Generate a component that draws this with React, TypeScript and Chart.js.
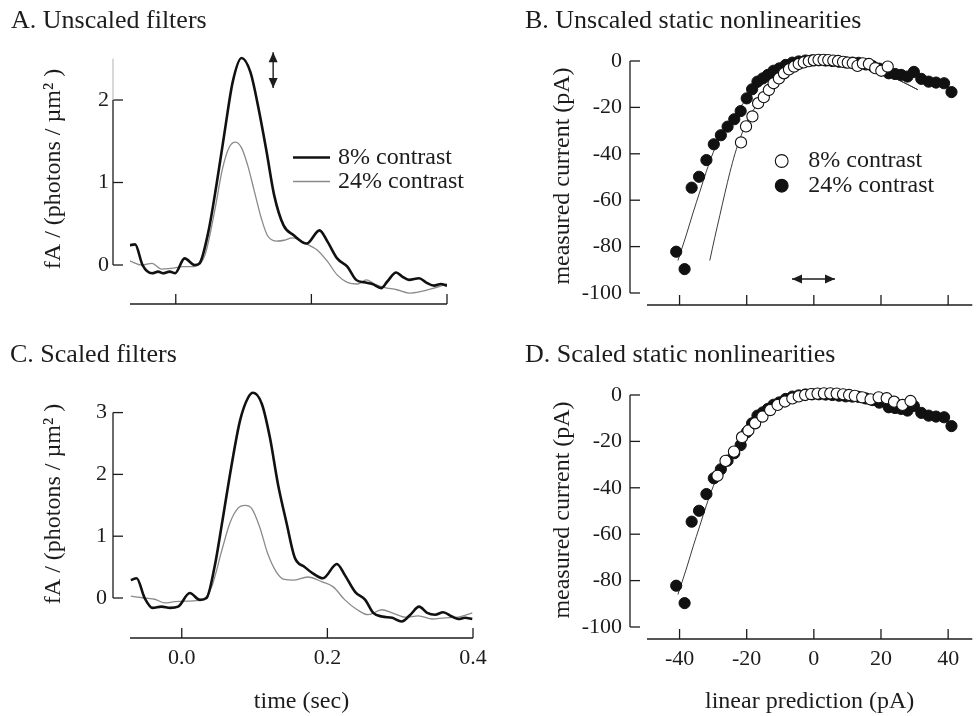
import React, { useEffect, useRef } from "react";
import { Chart, registerables } from "chart.js";

Chart.register(...registerables);

const FONT = "'Liberation Serif', 'Times New Roman', serif";
const INK = "#1c1c1c";
const GRAY = "#8a8a8a";

// ---------- Panel A: unscaled filters ----------
const A_T_8 = [-0.068, -0.060, -0.049, -0.035, -0.026, -0.019, -0.009, -0.001, 0.013, 0.028, 0.035, 0.048, 0.060, 0.072, 0.084, 0.097, 0.110, 0.122, 0.134, 0.145, 0.159, 0.174, 0.193, 0.212, 0.224, 0.238, 0.253, 0.266, 0.278, 0.290, 0.303, 0.312, 0.325, 0.334, 0.344, 0.359, 0.369, 0.381, 0.391, 0.400];
const A_V_8 = [0.24, 0.25, 0.00, -0.10, -0.08, -0.10, -0.08, -0.10, 0.08, 0.00, 0.02, 0.40, 0.97, 1.61, 2.22, 2.51, 2.34, 1.90, 1.37, 0.85, 0.48, 0.36, 0.26, 0.42, 0.28, 0.08, -0.02, -0.18, -0.21, -0.23, -0.28, -0.20, -0.09, -0.14, -0.18, -0.16, -0.21, -0.25, -0.23, -0.25];
const A_T_24 = [-0.068, -0.050, -0.035, -0.021, -0.006, 0.010, 0.028, 0.043, 0.057, 0.069, 0.079, 0.088, 0.097, 0.106, 0.116, 0.126, 0.135, 0.148, 0.160, 0.172, 0.194, 0.209, 0.224, 0.238, 0.253, 0.268, 0.281, 0.293, 0.307, 0.326, 0.344, 0.362, 0.381, 0.400];
const A_V_24 = [0.05, 0.00, 0.02, -0.05, -0.04, -0.02, -0.02, 0.12, 0.64, 1.17, 1.43, 1.49, 1.42, 1.21, 0.89, 0.57, 0.36, 0.29, 0.30, 0.33, 0.25, 0.18, 0.04, -0.12, -0.21, -0.23, -0.18, -0.23, -0.27, -0.30, -0.34, -0.32, -0.28, -0.23];

// ---------- Panel C: scaled filters ----------
const C_T_8 = [-0.070, -0.062, -0.051, -0.040, -0.028, -0.016, -0.005, 0.011, 0.025, 0.034, 0.045, 0.056, 0.068, 0.080, 0.091, 0.098, 0.110, 0.121, 0.132, 0.144, 0.155, 0.169, 0.180, 0.194, 0.213, 0.224, 0.238, 0.252, 0.263, 0.275, 0.289, 0.302, 0.314, 0.326, 0.337, 0.348, 0.359, 0.371, 0.380, 0.389, 0.399];
const C_V_8 = [0.29, 0.32, 0.00, -0.16, -0.14, -0.16, -0.14, 0.08, -0.03, 0.00, 0.50, 1.26, 2.12, 2.87, 3.24, 3.32, 3.14, 2.60, 1.85, 1.21, 0.66, 0.50, 0.40, 0.32, 0.55, 0.37, 0.10, -0.03, -0.24, -0.30, -0.32, -0.38, -0.27, -0.14, -0.24, -0.27, -0.23, -0.30, -0.34, -0.32, -0.34];
const C_T_24 = [-0.070, -0.051, -0.037, -0.023, -0.010, 0.007, 0.028, 0.041, 0.055, 0.066, 0.077, 0.087, 0.096, 0.107, 0.118, 0.130, 0.141, 0.153, 0.173, 0.193, 0.208, 0.224, 0.241, 0.256, 0.275, 0.289, 0.307, 0.325, 0.344, 0.362, 0.380, 0.399];
const C_V_24 = [0.03, 0.00, -0.02, -0.08, -0.06, -0.05, -0.03, 0.18, 0.77, 1.21, 1.45, 1.50, 1.45, 1.15, 0.72, 0.42, 0.30, 0.29, 0.34, 0.26, 0.18, -0.03, -0.19, -0.27, -0.19, -0.24, -0.31, -0.29, -0.34, -0.32, -0.31, -0.24];

// ---------- Panels B & D: static nonlinearities ----------
const NL_X_24 = [-41.0, -38.5, -36.4, -34.2, -32.0, -29.8, -27.7, -25.7, -23.7, -21.8, -20.0, -18.4, -16.8, -15.2, -13.7, -12.0, -10.3, -8.4, -6.4, -4.5, -2.5, -0.5, 1.5, 3.5, 5.5, 7.5, 9.5, 11.5, 13.3, 15.5, 17.5, 19.5, 22.3, 24.2, 26.0, 27.9, 29.8, 32.0, 34.2, 36.4, 38.8, 41.0];
const NL_Y_24 = [-82.2, -89.7, -54.6, -49.9, -42.7, -35.9, -32.0, -28.3, -25.1, -21.6, -16.1, -12.2, -8.9, -7.5, -6.0, -4.2, -3.2, -1.7, -0.7, -0.2, 0.2, 0.3, 0.3, 0.2, 0.0, -0.3, -0.6, -0.7, -0.8, -1.5, -2.2, -3.3, -5.3, -5.6, -6.0, -6.7, -4.7, -7.7, -8.9, -9.3, -9.6, -13.4];
const B_X_8 = [-21.7, -20.2, -18.3, -16.6, -14.9, -13.4, -12.0, -10.4, -8.9, -7.4, -5.9, -4.5, -3.0, -1.5, 0.0, 1.4, 2.9, 4.3, 5.8, 7.2, 8.7, 10.1, 11.6, 13.0, 14.6, 16.4, 18.3, 20.1, 22.0];
const B_Y_8 = [-35.1, -28.2, -23.9, -18.2, -15.6, -12.5, -9.6, -7.5, -5.3, -3.6, -2.4, -1.3, -0.6, -0.1, 0.3, 0.5, 0.5, 0.4, 0.2, 0.0, -0.4, -0.7, -0.9, -2.1, -1.0, -1.3, -3.1, -4.2, -2.4];
const D_X_8 = [-28.7, -26.3, -23.8, -21.4, -19.5, -17.5, -15.3, -13.0, -10.8, -8.6, -6.4, -4.5, -2.6, -0.8, 1.1, 3.0, 4.9, 6.8, 8.7, 10.5, 12.2, 14.4, 16.9, 19.3, 21.7, 23.9, 26.4, 28.8];
const D_Y_8 = [-34.8, -28.4, -24.4, -18.2, -15.3, -12.2, -9.3, -6.5, -4.3, -2.8, -1.5, -0.6, 0.0, 0.4, 0.6, 0.7, 0.7, 0.6, 0.3, 0.0, -0.4, -1.0, -1.9, -1.0, -1.4, -2.9, -4.3, -2.6];
const FIT_X_24 = [-40.5, -38, -36, -34, -32, -30, -28, -26, -24, -22, -20, -17.5, -15, -12.5, -10, -8, -5, -2, 0, 5, 10, 15, 20, 25, 31];
const FIT_Y_24 = [-86, -75, -65.5, -56.5, -47.5, -39.5, -33, -28, -24, -20, -16.5, -12.8, -9.5, -7.0, -4.8, -3.4, -1.6, -0.4, 0, -0.3, -1.2, -2.8, -5.0, -8.0, -12.4];
const FIT_X_8 = [-31, -29.5, -28, -26.5, -25, -23.5, -22, -20.5, -19, -17, -15, -13, -11, -9, -7, -5, -3, -1, 0, 5, 10, 15, 20, 25, 31];
const FIT_Y_8 = [-86, -76, -66.5, -57, -48, -40, -33.5, -28, -23.5, -19, -14.8, -11, -8, -5.5, -3.5, -2, -0.9, -0.2, 0, -0.3, -1.2, -2.8, -5.0, -8.0, -12.4];
const FIT_X_D = [-40.5, -38, -36, -34, -32, -30, -28, -26, -24, -22, -20, -17.5, -15, -12.5, -10, -8, -5, -2, 0, 5, 10, 15, 20];
const FIT_Y_D = [-86, -75, -65.5, -56.5, -47.5, -39.5, -33, -28, -24, -20, -16.5, -12.8, -9.5, -7.0, -4.8, -3.4, -1.6, -0.4, 0, -0.3, -1.2, -2.8, -5.0];

// ---------- ticks & labels ----------
const T_TICKS = [0, 0.2, 0.4];
const T_TICK_LABELS = ["0.0", "0.2", "0.4"];
const A_Y_TICKS = [0, 1, 2];
const C_Y_TICKS = [0, 1, 2, 3];
const NL_X_TICKS = [-40, -20, 0, 20, 40];
const NL_Y_TICKS = [-100, -80, -60, -40, -20, 0];

const LABEL_8 = "8% contrast";
const LABEL_24 = "24% contrast";
const FILTER_Y_TITLE = "fA / (photons / µm² )";
const NL_Y_TITLE = "measured current (pA)";

const TITLE_SIZE = 26;
const TICK_SIZE = 22;
const AXIS_TITLE_SIZE = 24;
const LEGEND_SIZE = 24;

const pts = (xs: number[], ys: number[]) => xs.map((x, i) => ({ x, y: ys[i] }));

const thick = (label: string, data: any) => ({
  label, data, showLine: true, pointRadius: 0, borderColor: "#111", borderWidth: 2.6,
  cubicInterpolationMode: "monotone", borderJoinStyle: "round", order: 0,
});
const thin = (label: string, data: any) => ({
  label, data, showLine: true, pointRadius: 0, borderColor: GRAY, borderWidth: 1.3,
  cubicInterpolationMode: "monotone", borderJoinStyle: "round", order: 1,
});
const fitLine = (label: string, data: any) => ({
  label, data, showLine: true, pointRadius: 0, borderColor: "#3a3a3a", borderWidth: 1,
  cubicInterpolationMode: "monotone", order: 3,
});
const openPts = (label: string, data: any) => ({
  label, data, showLine: false, pointRadius: 5.6, pointBorderWidth: 1.1,
  pointBackgroundColor: "#ffffff", pointBorderColor: "#111", order: 0,
});
const filledPts = (label: string, data: any) => ({
  label, data, showLine: false, pointRadius: 5.6, pointBorderWidth: 1,
  pointBackgroundColor: "#111", pointBorderColor: "#111", order: 1,
});

const PANELS: any[] = [
  {
    key: "A", left: 0, top: 0, w: 490, h: 320, padL: 11, padR: 43,
    title: "A. Unscaled filters", titleTop: 7.8, titleBottom: 0.2,
    yW: 119, xH: 16, xMin: -0.0675, xMax: 0.4, yMin: -0.4727, yMax: 2.8,
    xTicks: T_TICKS, xLabels: null, xTickPad: 7, xTitle: null,
    yTicks: A_Y_TICKS, yLabels: A_Y_TICKS.map(String), yTickPad: 21,
    yTitle: FILTER_Y_TITLE, yTitlePad: 28.6,
    datasets: [thick(LABEL_8, pts(A_T_8, A_V_8)), thin(LABEL_24, pts(A_T_24, A_V_24))],
    decor: {
      spine: [0, 2], faint: [2, 2.5],
      arrow: { x1: 0.1436, y1: 2.58, x2: 0.1436, y2: 2.145 },
      legend: { kind: "line", x1: 293, x2: 330, tx: 338, ys: [157.5, 181.5] },
    },
  },
  {
    key: "B", left: 490, top: 0, w: 489, h: 320, padL: 35, padR: 0,
    title: "B. Unscaled static nonlinearities", titleTop: 7.8, titleBottom: 13.2,
    yW: 122, xH: 15, xMin: -49.7, xMax: 47.2, yMin: -105.17, yMax: 6.03,
    xTicks: NL_X_TICKS, xLabels: null, xTickPad: 7, xTitle: null,
    yTicks: NL_Y_TICKS, yLabels: NL_Y_TICKS.map(String), yTickPad: 25,
    yTitle: NL_Y_TITLE, yTitlePad: 23.6,
    datasets: [
      openPts(LABEL_8, pts(B_X_8, B_Y_8)),
      filledPts(LABEL_24, pts(NL_X_24, NL_Y_24)),
      fitLine("fit 8%", pts(FIT_X_8, FIT_Y_8)),
      fitLine("fit 24%", pts(FIT_X_24, FIT_Y_24)),
    ],
    decor: {
      spine: [-100, 0],
      arrow: { x1: -6.5, y1: -93.97, x2: 6.3, y2: -93.97 },
      legend: { kind: "point", cx: 291.7, tx: 318.3, ys: [161, 185.7] },
    },
  },
  {
    key: "C", left: 0, top: 320, w: 490, h: 396, padL: 10, padR: 17,
    title: "C. Scaled filters", titleTop: 22, titleBottom: 2,
    yW: 120, xH: 78, xMin: -0.0711, xMax: 0.4, yMin: -0.647, yMax: 3.689,
    xTicks: T_TICKS, xLabels: T_TICK_LABELS, xTickPad: 7, xTitle: "time (sec)",
    yTicks: C_Y_TICKS, yLabels: C_Y_TICKS.map(String), yTickPad: 23,
    yTitle: FILTER_Y_TITLE, yTitlePad: 29.6,
    datasets: [thick(LABEL_8, pts(C_T_8, C_V_8)), thin(LABEL_24, pts(C_T_24, C_V_24))],
    decor: { spine: [0, 3] },
  },
  {
    key: "D", left: 490, top: 320, w: 489, h: 396, padL: 35, padR: 0,
    title: "D. Scaled static nonlinearities", titleTop: 22, titleBottom: 13,
    yW: 122, xH: 77, xMin: -49.7, xMax: 47.2, yMin: -105.17, yMax: 6.03,
    xTicks: NL_X_TICKS, xLabels: NL_X_TICKS.map(String), xTickPad: 7, xTitle: "linear prediction (pA)",
    yTicks: NL_Y_TICKS, yLabels: NL_Y_TICKS.map(String), yTickPad: 25,
    yTitle: NL_Y_TITLE, yTitlePad: 23.6,
    datasets: [
      openPts(LABEL_8, pts(D_X_8, D_Y_8)),
      filledPts(LABEL_24, pts(NL_X_24, NL_Y_24)),
      fitLine("fit", pts(FIT_X_D, FIT_Y_D)),
    ],
    decor: { spine: [-100, 0] },
  },
];

const SPINE_GAP = 17;
const TICK_LEN = 10;

function arrowHead(ctx: CanvasRenderingContext2D, x: number, y: number, ang: number) {
  const len = 10, half = 4.5;
  ctx.beginPath();
  ctx.moveTo(x, y);
  ctx.lineTo(x - len * Math.cos(ang) + half * Math.sin(ang), y - len * Math.sin(ang) - half * Math.cos(ang));
  ctx.lineTo(x - len * Math.cos(ang) - half * Math.sin(ang), y - len * Math.sin(ang) + half * Math.cos(ang));
  ctx.closePath();
  ctx.fill();
}

function makeDecor(p: any) {
  const d = p.decor;
  return {
    id: "decor" + p.key,
    afterDraw(chart: any) {
      const { ctx, chartArea: ca, scales } = chart;
      const xs = scales.x, ys = scales.y;
      ctx.save();
      ctx.strokeStyle = INK;
      ctx.fillStyle = INK;
      ctx.lineWidth = 1.3;
      const seg = (x1: number, y1: number, x2: number, y2: number) => {
        ctx.beginPath(); ctx.moveTo(x1, y1); ctx.lineTo(x2, y2); ctx.stroke();
      };
      // x axis
      const by = ca.bottom;
      seg(ca.left, by, ca.right, by);
      for (const t of xs.ticks) {
        const px = xs.getPixelForValue(t.value);
        seg(px, by, px, by - TICK_LEN);
      }
      // y spine
      const sx = ca.left - SPINE_GAP;
      seg(sx, ys.getPixelForValue(d.spine[0]), sx, ys.getPixelForValue(d.spine[1]));
      for (const t of ys.ticks) {
        const py = ys.getPixelForValue(t.value);
        seg(sx, py, sx + TICK_LEN, py);
      }
      if (d.faint) {
        ctx.strokeStyle = "#c4c4c4";
        seg(sx, ys.getPixelForValue(d.faint[0]), sx, ys.getPixelForValue(d.faint[1]));
        ctx.strokeStyle = INK;
      }
      // double arrow
      if (d.arrow) {
        const a = d.arrow;
        const x1 = xs.getPixelForValue(a.x1), y1 = ys.getPixelForValue(a.y1);
        const x2 = xs.getPixelForValue(a.x2), y2 = ys.getPixelForValue(a.y2);
        ctx.lineWidth = 1.4;
        seg(x1, y1, x2, y2);
        const ang = Math.atan2(y2 - y1, x2 - x1);
        arrowHead(ctx, x2, y2, ang);
        arrowHead(ctx, x1, y1, ang + Math.PI);
      }
      // legend
      if (d.legend) {
        const L = d.legend;
        const dsets = chart.data.datasets;
        ctx.font = `${LEGEND_SIZE}px ${FONT}`;
        ctx.textBaseline = "middle";
        ctx.textAlign = "left";
        L.ys.forEach((y: number, i: number) => {
          const ds = dsets[i];
          if (L.kind === "line") {
            ctx.strokeStyle = ds.borderColor;
            ctx.lineWidth = ds.borderWidth;
            seg(L.x1, y, L.x2, y);
          } else {
            ctx.beginPath();
            ctx.arc(L.cx, y, 6.4, 0, Math.PI * 2);
            ctx.fillStyle = ds.pointBackgroundColor;
            ctx.fill();
            ctx.strokeStyle = ds.pointBorderColor;
            ctx.lineWidth = 1.1;
            ctx.stroke();
          }
          ctx.fillStyle = INK;
          ctx.fillText(ds.label, L.tx, y);
        });
      }
      ctx.restore();
    },
  };
}

function buildConfig(p: any): any {
  const zeroPad = (s: any) => { s.paddingLeft = 0; s.paddingRight = 0; s.paddingTop = 0; s.paddingBottom = 0; };
  return {
    type: "scatter",
    data: { datasets: p.datasets },
    options: {
      responsive: false,
      animation: false,
      devicePixelRatio: 1,
      events: [],
      layout: { padding: { left: p.padL, right: p.padR, top: 0, bottom: 0 } },
      plugins: {
        legend: { display: false },
        tooltip: { enabled: false },
        title: {
          display: true, text: p.title, align: "start", color: INK,
          font: { family: FONT, size: TITLE_SIZE, weight: "normal", lineHeight: 1 },
          padding: { top: p.titleTop, bottom: p.titleBottom },
        },
      },
      scales: {
        x: {
          type: "linear", position: "bottom", min: p.xMin, max: p.xMax,
          grid: { display: false, drawTicks: false },
          border: { display: false },
          ticks: {
            display: !!p.xLabels, autoSkip: false, maxRotation: 0, padding: p.xTickPad, color: INK,
            font: { family: FONT, size: TICK_SIZE },
            callback: (_v: any, i: number) => (p.xLabels ? p.xLabels[i] : ""),
          },
          title: p.xTitle
            ? { display: true, text: p.xTitle, color: INK, font: { family: FONT, size: AXIS_TITLE_SIZE }, padding: { top: 0, bottom: 0 } }
            : { display: false },
          afterBuildTicks: (s: any) => { s.ticks = p.xTicks.map((v: number) => ({ value: v })); },
          afterFit: (s: any) => { s.height = p.xH; zeroPad(s); },
        },
        y: {
          type: "linear", position: "left", min: p.yMin, max: p.yMax,
          grid: { display: false, drawTicks: false },
          border: { display: false },
          ticks: {
            autoSkip: false, padding: p.yTickPad, color: INK,
            font: { family: FONT, size: TICK_SIZE },
            callback: (_v: any, i: number) => p.yLabels[i],
          },
          title: {
            display: true, text: p.yTitle, color: INK,
            font: { family: FONT, size: AXIS_TITLE_SIZE }, padding: { top: p.yTitlePad, bottom: 0 },
          },
          afterBuildTicks: (s: any) => { s.ticks = p.yTicks.map((v: number) => ({ value: v })); },
          afterFit: (s: any) => { s.width = p.yW; zeroPad(s); },
        },
      },
    },
    plugins: [makeDecor(p)],
  };
}

export default function App() {
  const canvases = useRef<(HTMLCanvasElement | null)[]>([]);
  useEffect(() => {
    const charts = PANELS.map((p, i) => new Chart(canvases.current[i] as HTMLCanvasElement, buildConfig(p)));
    return () => charts.forEach((c) => c.destroy());
  }, []);
  return (
    <div style={{ position: "absolute", left: 0, top: 0, width: 979, height: 716, background: "#ffffff", overflow: "hidden" }}>
      {PANELS.map((p, i) => (
        <canvas
          key={p.key}
          ref={(el) => { canvases.current[i] = el; }}
          width={p.w}
          height={p.h}
          style={{ position: "absolute", left: p.left, top: p.top, width: p.w, height: p.h, display: "block" }}
        />
      ))}
    </div>
  );
}
